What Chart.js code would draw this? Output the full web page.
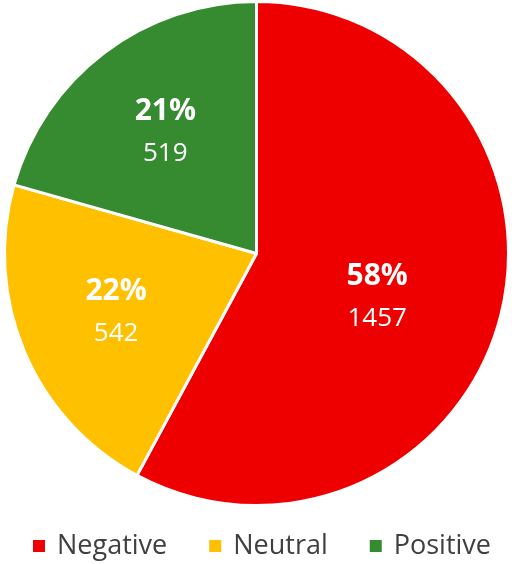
<!DOCTYPE html>
<html>
<head>
<meta charset="utf-8">
<script src="https://cdn.jsdelivr.net/npm/chart.js@4"></script>
<style>
  html, body { margin: 0; padding: 0; background: #ffffff; }
  #wrap { width: 512px; height: 564px; }
</style>
</head>
<body>
<div id="wrap"><canvas id="chart" width="512" height="564"></canvas></div>
<script>
const sentimentLabels = ['Negative', 'Neutral', 'Positive'];
const sentimentCounts = [1457, 542, 519];
const sentimentColors = ['#ee0000', '#ffc000', '#368a2f'];

const FONT = '"Open Sans", "DejaVu Sans", sans-serif';

// Draw the percent + count labels inside each slice
const sliceLabels = {
    id: 'sliceLabels',
    afterDatasetsDraw(chart, args, opts) {
        const ctx = chart.ctx;
        const meta = chart.getDatasetMeta(0);
        const values = chart.data.datasets[0].data;
        const total = values.reduce((a, b) => a + b, 0);

        meta.data.forEach((arc, i) => {
            const mid = (arc.startAngle + arc.endAngle) / 2 + opts.shift[i] * Math.PI / 180;
            const r = arc.outerRadius * opts.radius[i];
            const x = arc.x + Math.cos(mid) * r;
            const y = arc.y + Math.sin(mid) * r;
            const pct = Math.round(values[i] / total * 100) + '%';

            ctx.save();
            ctx.fillStyle = '#ffffff';
            ctx.textAlign = 'center';
            ctx.textBaseline = 'middle';
            ctx.font = 'bold 30px ' + FONT;
            ctx.fillText(pct, x, y - 21);
            ctx.font = '26px ' + FONT;
            ctx.fillText(values[i], x, y + 21);
            ctx.restore();
        });
    }
};

// Simple legend row under the pie
const bottomLegend = {
    id: 'bottomLegend',
    afterDraw(chart) {
        const ctx = chart.ctx;
        const colors = chart.data.datasets[0].backgroundColor;
        const box = 12, boxGap = 12, itemGap = 42;

        ctx.save();
        ctx.font = '27px ' + FONT;
        const widths = chart.data.labels.map(l => box + boxGap + ctx.measureText(l).width);
        const rowWidth = widths.reduce((a, b) => a + b, 0) + itemGap * (widths.length - 1);
        let x = 262 - rowWidth / 2;
        const y = 546;

        chart.data.labels.forEach((label, i) => {
            ctx.fillStyle = colors[i];
            ctx.fillRect(x, y - box / 2, box, box);
            ctx.fillStyle = '#404040';
            ctx.textAlign = 'left';
            ctx.textBaseline = 'middle';
            ctx.fillText(label, x + box + boxGap, y);
            x += widths[i] + itemGap;
        });
        ctx.restore();
    }
};

new Chart(document.getElementById('chart'), {
    type: 'pie',
    data: {
        labels: sentimentLabels,
        datasets: [{
            data: sentimentCounts,
            backgroundColor: sentimentColors,
            borderColor: '#ffffff',
            borderWidth: 3
        }]
    },
    options: {
        responsive: false,
        animation: false,
        layout: {
            padding: { top: 0, bottom: 57, left: 1, right: 0 }
        },
        plugins: {
            legend: { display: false },
            tooltip: { enabled: false },
            sliceLabels: { radius: [0.51, 0.605, 0.6], shift: [6, 0, 0] }
        }
    },
    plugins: [sliceLabels, bottomLegend]
});
</script>
</body>
</html>
